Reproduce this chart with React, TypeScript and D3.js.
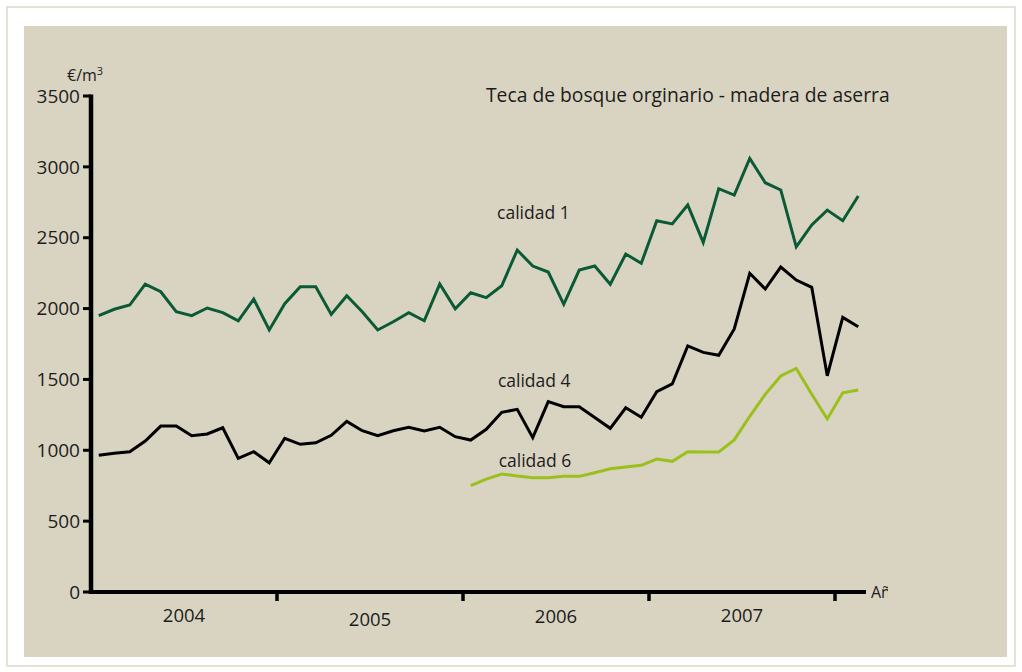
import React from 'react';
import * as d3 from 'd3';

// Precio mensual de teca (€/m3), enero 2004 - febrero 2008
const years = ['2004', '2005', '2006', '2007'];
const yTicks = [0, 500, 1000, 1500, 2000, 2500, 3000, 3500];

const calidad1 = [
  1950, 1995, 2025, 2173, 2119, 1978, 1950, 2004, 1971, 1914, 2067, 1849,
  2034, 2154, 2154, 1959, 2091, 1978, 1849, 1907, 1971, 1914, 2173, 1999,
  2112, 2077, 2161, 2413, 2300, 2258, 2030, 2272, 2300, 2171, 2385, 2319,
  2620, 2597, 2731, 2467, 2846, 2801, 3060, 2888, 2837, 2436, 2590, 2695,
  2620, 2794,
];
const calidad4 = [
  965, 979, 990, 1065, 1171, 1171, 1103, 1115, 1159, 943, 990, 912,
  1085, 1042, 1053, 1106, 1204, 1138, 1103, 1138, 1162, 1136, 1162, 1096,
  1072, 1148, 1268, 1289, 1089, 1343, 1307, 1307, 1231, 1155, 1300, 1233,
  1413, 1468, 1736, 1691, 1670, 1856, 2249, 2138, 2293, 2201, 2150, 1526,
  1938, 1872,
];
// calidad 6 empieza en enero 2006 (mes 24)
const calidad6Start = 24;
const calidad6 = [
  750, 797, 833, 818, 807, 807, 816, 816, 842, 870, 882, 894,
  938, 922, 990, 988, 988, 1073, 1240, 1395, 1524, 1578, 1395, 1221,
  1406, 1425,
];

const series = [
  { name: 'calidad 1', values: calidad1, start: 0, color: '#0b5a36', labelMonth: 25.7, labelValue: 2630 },
  { name: 'calidad 4', values: calidad4, start: 0, color: '#000000', labelMonth: 25.75, labelValue: 1450 },
  { name: 'calidad 6', values: calidad6, start: calidad6Start, color: '#9bbf1c', labelMonth: 25.8, labelValue: 885 },
];

const W = 1022;
const H = 672;
const font = '"Open Sans", "DejaVu Sans", sans-serif';
const textColor = '#1c1c1c';

export default function App() {
  const nMonths = calidad1.length;
  const x = d3.scaleLinear().domain([-0.5, nMonths - 0.5]).range([91, 866]);
  const y = d3.scaleLinear().domain([0, 3500]).range([592, 96]);

  const line = d3.line<[number, number]>()
    .x((d) => x(d[0]))
    .y((d) => y(d[1]));

  const yearMid = (i: number) => x(i * 12 + 5.5);
  const yearEnd = (i: number) => x(i * 12 + 11.5);
  const yearDy = [0, 4, 1, 0];

  return (
    <svg width={W} height={H} style={{ position: 'absolute', left: 0, top: 0, display: 'block', background: '#fff' }}>
      <rect x={7} y={7} width={1008} height={659} fill="#fff" stroke="#ddd8c6" strokeWidth={1.5} />
      <rect x={24} y={26} width={983} height={631} fill="#d9d4c1" />

      {/* titulo */}
      <text x={486} y={102} fontFamily={font} fontSize={19.3} fill={textColor}>
        Teca de bosque orginario - madera de aserra
      </text>

      {/* series */}
      {series.map((s) => (
        <g key={s.name}>
          <path
            d={line(s.values.map((v, i) => [i + s.start, v] as [number, number])) || ''}
            fill="none"
            stroke={s.color}
            strokeWidth={3}
            strokeLinejoin="miter"
          />
          <text x={x(s.labelMonth)} y={y(s.labelValue)} fontFamily={font} fontSize={17.5} fill={textColor}>
            {s.name}
          </text>
        </g>
      ))}

      {/* eje y */}
      <line x1={x(-0.5)} x2={x(-0.5)} y1={y(3500) - 1.5} y2={y(0) + 2} stroke="#000" strokeWidth={4.5} />
      {yTicks.map((t) => (
        <g key={t}>
          <line x1={x(-0.5) - 8} x2={x(-0.5)} y1={y(t)} y2={y(t)} stroke="#000" strokeWidth={3} />
          <text
            x={x(-0.5) - 11}
            y={y(t)}
            dy="0.35em"
            textAnchor="end"
            fontFamily={font}
            fontSize={19}
            fill={textColor}
          >
            {t}
          </text>
        </g>
      ))}
      <text x={67} y={81} fontFamily={font} fontSize={16} fill={textColor}>
        €/m<tspan dy={-6} fontSize={11}>3</tspan>
      </text>

      {/* eje x */}
      <line x1={x(-0.5) - 2} x2={x(nMonths - 0.5)} y1={y(0)} y2={y(0)} stroke="#000" strokeWidth={4} />
      {years.map((yr, i) => (
        <g key={yr}>
          <line x1={yearEnd(i)} x2={yearEnd(i)} y1={y(0)} y2={y(0) + 9} stroke="#000" strokeWidth={3.5} />
          <text
            x={yearMid(i)}
            y={y(0) + 30 + yearDy[i]}
            textAnchor="middle"
            fontFamily={font}
            fontSize={18.5}
            fill={textColor}
          >
            {yr}
          </text>
        </g>
      ))}
      <clipPath id="clipAno">
        <rect x={x(nMonths - 0.5)} y={y(0) - 20} width={22} height={30} />
      </clipPath>
      <text
        x={x(nMonths - 0.5) + 5}
        y={y(0)}
        dy="0.35em"
        fontFamily={font}
        fontSize={16}
        fill={textColor}
        clipPath="url(#clipAno)"
      >
        Año
      </text>
    </svg>
  );
}
